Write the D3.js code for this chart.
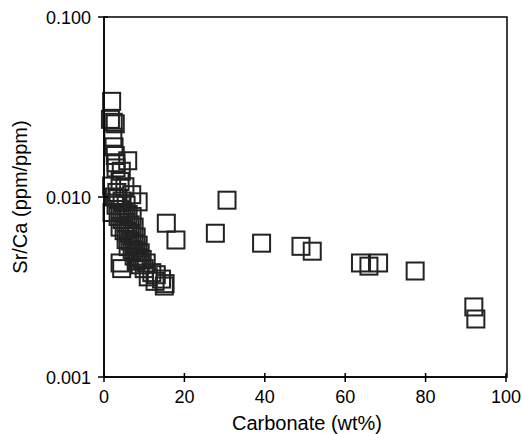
<!DOCTYPE html>
<html><head><meta charset="utf-8">
<script src="https://cdn.jsdelivr.net/npm/d3@7"></script>
<style>body{margin:0;background:#fff;} text{font-family:"Liberation Sans",Arial,Helvetica,sans-serif;}</style>
</head><body>
<svg id="c" width="522" height="434"></svg>
<script>
// Carbonate (wt%)
const carbonate = [1.9,1.6,2.3,2.8,2.2,2.5,2.8,3.0,5.9,3.0,4.3,1.9,4.0,5.2,3.2,6.9,8.5,2.0,2.6,3.5,4.5,5.5,3.0,4.0,5.0,6.0,7.0,3.5,4.5,5.5,6.5,7.5,4.0,5.0,6.0,7.0,8.0,5.5,6.5,7.5,8.5,6.0,7.0,8.0,9.0,7.5,8.5,9.5,10.5,8.0,9.0,4.0,4.4,11.0,12.7,15.2,11.9,14.3,10.0,13.0,15.0,
  15.5,17.9,27.7,30.6,39.2,49.0,51.8,63.8,65.9,68.3,77.4,92.0,92.5];
// Sr/Ca (ppm/ppm)
const srca = [0.034,0.027,0.026,0.0255,0.0215,0.019,0.017,0.0155,0.0159,0.0145,0.0139,0.0115,0.0122,0.0114,0.0106,0.0103,0.0094,0.0082,0.0100,0.0098,0.0095,0.0090,0.0090,0.0085,0.0082,0.0080,0.0078,0.0078,0.0075,0.0072,0.0070,0.0068,0.0068,0.0065,0.0063,0.0061,0.0060,0.0058,0.0057,0.0055,0.0054,0.0053,0.0051,0.0050,0.0049,0.0047,0.0046,0.0045,0.0043,0.0044,0.0042,0.0043,0.0040,0.0036,0.0034,0.0033,0.0038,0.0035,0.0040,0.0037,0.0032,
  0.00715,0.00577,0.00629,0.0096,0.00554,0.00532,0.0050,0.0043,0.00413,0.0043,0.00388,0.00245,0.0021];
const xTicks = [0,20,40,60,80,100];
const yTicks = [0.001,0.01,0.1];
const yTickLabels = ["0.001","0.010","0.100"];
const xTitle = "Carbonate (wt%)";
const yTitle = "Sr/Ca (ppm/ppm)";

const svg = d3.select("#c");
const L=104, R=506, T=17, B=377;
const x = d3.scaleLinear().domain([0,100]).range([L,R]);
const y = d3.scaleLog().domain([0.001,0.1]).range([B,T]);

// frame
svg.append("rect").attr("x",L).attr("y",T).attr("width",R-L+1).attr("height",B-T)
  .attr("fill","none").attr("stroke","#000").attr("stroke-width",1.5);

// points
const S=17;
svg.append("g").selectAll("rect").data(carbonate.map((c,i)=>[c,srca[i]])).join("rect")
  .attr("x",d=>x(d[0])-S/2).attr("y",d=>y(d[1])-S/2).attr("width",S).attr("height",S)
  .attr("fill","none").attr("stroke","#222").attr("stroke-width",2);

// x axis
const gx = svg.append("g").attr("transform",`translate(0,${B})`);
gx.append("line").attr("x1",L).attr("x2",R+1).attr("stroke","#000").attr("stroke-width",1.5);
xTicks.forEach(t=>{
  gx.append("line").attr("x1",x(t)).attr("x2",x(t)).attr("y1",-4).attr("y2",5).attr("stroke","#000").attr("stroke-width",1.5);
  gx.append("text").attr("x",x(t)).attr("y",26).attr("text-anchor","middle").attr("font-size",18).text(t);
});
svg.append("text").attr("x",(L+R)/2+2).attr("y",430).attr("text-anchor","middle").attr("font-size",20).text(xTitle);

// y axis
const gy = svg.append("g");
gy.append("line").attr("x1",L).attr("x2",L).attr("y1",T).attr("y2",B).attr("stroke","#000").attr("stroke-width",1.5);
yTicks.forEach((t,i)=>{
  gy.append("line").attr("x1",L-6).attr("x2",L+4).attr("y1",y(t)).attr("y2",y(t)).attr("stroke","#000").attr("stroke-width",1.5);
  gy.append("text").attr("x",L-13).attr("y",y(t)+6.5).attr("text-anchor","end").attr("font-size",18).text(yTickLabels[i]);
});
svg.append("text").attr("transform",`translate(27,${(T+B)/2}) rotate(-90)`).attr("text-anchor","middle").attr("font-size",20).text(yTitle);
</script>
</body></html>
